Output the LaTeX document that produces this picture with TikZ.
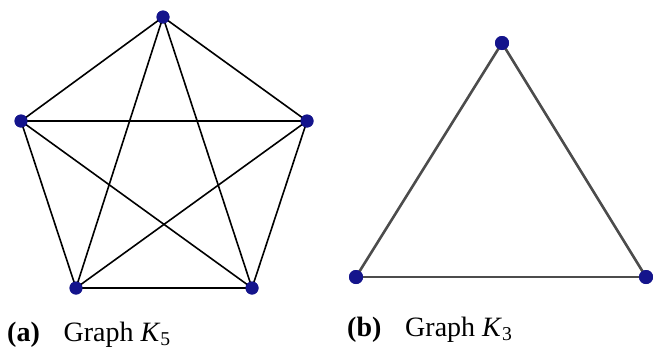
\documentclass[tikz,border=0pt]{standalone}
\usepackage{fontspec}
\setmainfont{Liberation Serif}
\usetikzlibrary{positioning}

\definecolor{vertexblue}{RGB}{20,20,140}
\tikzset{
    vertex/.style={circle, fill=vertexblue, inner sep=0pt, minimum size=13pt},
    edge/.style={black, line width=1.6pt},
    caption/.style={anchor=base west, inner sep=0pt, font=\fontsize{28}{32}\selectfont}
}

\begin{document}
\begin{tikzpicture}[x=1pt, y=-1pt]
\useasboundingbox (0,0) rectangle (653,351);
% Graph K5
\node[vertex] (v1) at (163,17) {};
\node[vertex] (v2) at (21,121) {};
\node[vertex] (v3) at (307,121) {};
\node[vertex] (v4) at (76,288) {};
\node[vertex] (v5) at (252,288) {};
\foreach \a/\b in {v1/v2, v1/v3, v1/v4, v1/v5, v2/v3, v2/v4, v2/v5, v3/v4, v3/v5, v4/v5} {
    \draw[edge] (\a.center) -- (\b.center);
}
\foreach \v in {v1,v2,v3,v4,v5} {
    \node[vertex] at (\v) {};
}
% Graph K3
\node[vertex, minimum size=14pt] (w1) at (502,43) {};
\node[vertex, minimum size=14pt] (w2) at (356,277) {};
\node[vertex, minimum size=14pt] (w3) at (646,277) {};
\foreach \a/\b in {w1/w2, w2/w3, w3/w1} {
    \draw[edge, black!70, line width=2.6pt] (\a.center) -- (\b.center);
}
\foreach \v in {w1,w2,w3} {
    \node[vertex, minimum size=14pt] at (\v) {};
}
% captions
\node[caption] (capa) at (7,341) {\textbf{(a)}\hspace{0.85em}Graph \textit{K}\textsubscript{5}};
\node[caption] (capb) at (347,336) {\textbf{(b)}\hspace{0.85em}Graph \textit{K}\textsubscript{3}};
\end{tikzpicture}
\end{document}
